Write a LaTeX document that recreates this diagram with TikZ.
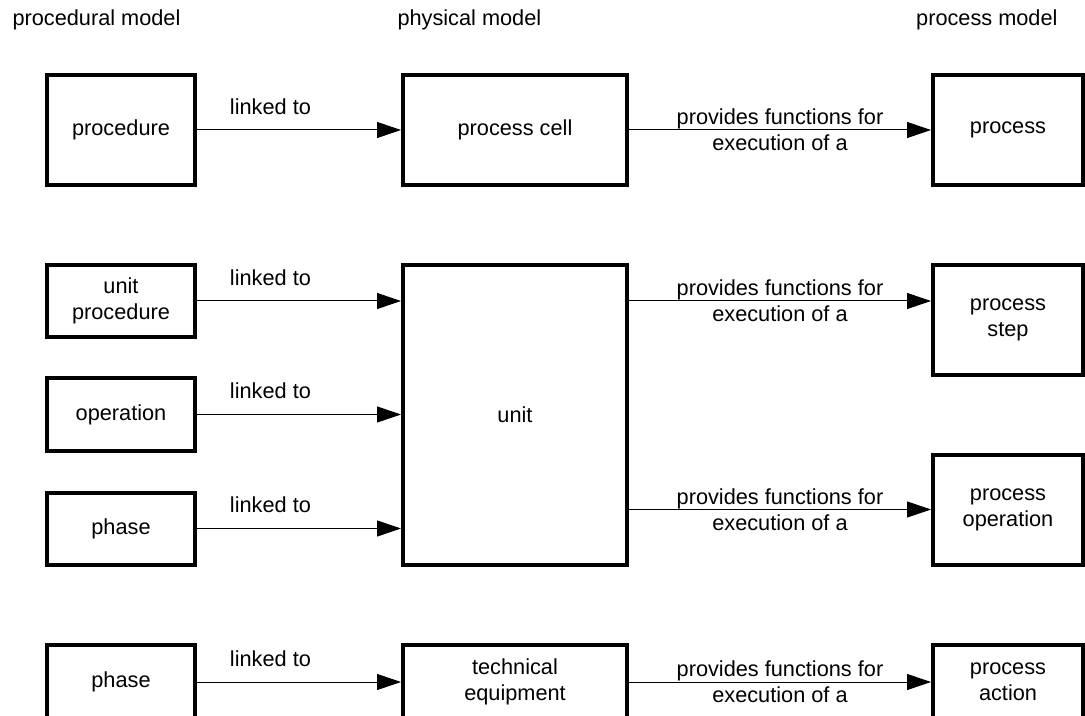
\documentclass[tikz,border=0pt]{standalone}
\usepackage{fontspec}
\setmainfont{Liberation Sans}
\usetikzlibrary{arrows.meta}
\tikzset{every picture/.style={line width=0.75pt}}

\begin{document}
\begin{tikzpicture}[x=0.75pt,y=0.75pt,yscale=-1,xscale=1,
  every node/.style={font=\fontsize{16.3}{19.5}\selectfont, align=center},
  blk/.style={draw, line width=3pt},
  lnk/.style={-{Triangle[length=18pt,width=12pt]}, line width=0.75pt},
  lbl/.style={above=11.25pt, inner sep=0pt}]
\useasboundingbox (0,0) rectangle (1085,716);

% Headers
\node[anchor=base west, inner sep=0pt] (hproc) at (12,25.5) {procedural model};
\node[anchor=base west, inner sep=0pt] (hphys) at (397,25.5) {physical model};
\node[anchor=base east, inner sep=0pt] (hpm) at (1058,25.5) {process model};

% Top row
\node[blk, minimum width=111pt, minimum height=82.5pt] (proc) at (121,130) {procedure};
\node[blk, minimum width=168pt, minimum height=82.5pt] (cell) at (515,130) {process cell};
\node[blk, minimum width=112.5pt, minimum height=82.5pt] (prc) at (1008,130) {process};

% Unit rows
\node[blk, minimum width=111pt, minimum height=54pt] (uproc) at (121,301) {unit\\procedure};
\node[blk, minimum width=111pt, minimum height=54pt] (oper) at (121,414.5) {operation};
\node[blk, minimum width=111pt, minimum height=54pt] (phs) at (121,528.5) {phase};
\node[blk, minimum width=168pt, minimum height=225pt] (unit) at (515,415) {unit};
\node[blk, minimum width=112.5pt, minimum height=82.5pt] (pstep) at (1008,320) {process\\step};
\node[blk, minimum width=112.5pt, minimum height=82.5pt] (popr) at (1008,509.5) {process\\operation};

% Bottom row (cut off by the page edge)
\node[blk, minimum width=111pt, minimum height=55.5pt] (phs2) at (121,682) {phase};
\node[blk, minimum width=168pt, minimum height=55.5pt] (teq) at (515,682) {technical\\equipment};
\node[blk, minimum width=112.5pt, minimum height=55.5pt] (pact) at (1008,682) {process\\action};

% Links
\draw[lnk] (proc) -- (cell) node[lbl, pos=.36] {linked to};
\draw[lnk] (cell) -- (prc) node[midway] {provides functions for\\execution of a};
\draw[lnk] (uproc) -- (uproc -| unit.west) node[lbl, pos=.36] {linked to};
\draw[lnk] (oper) -- (oper -| unit.west) node[lbl, pos=.36] {linked to};
\draw[lnk] (phs) -- (phs -| unit.west) node[lbl, pos=.36] {linked to};
\draw[lnk] (unit.east |- uproc) -- (pstep.west |- uproc) node[midway] {provides functions for\\execution of a};
\draw[lnk] (unit.east |- popr) -- (popr.west) node[midway] {provides functions for\\execution of a};
\draw[lnk] (phs2) -- (teq) node[lbl, pos=.36] {linked to};
\draw[lnk] (teq) -- (pact) node[midway] {provides functions for\\execution of a};

\end{tikzpicture}
\end{document}
